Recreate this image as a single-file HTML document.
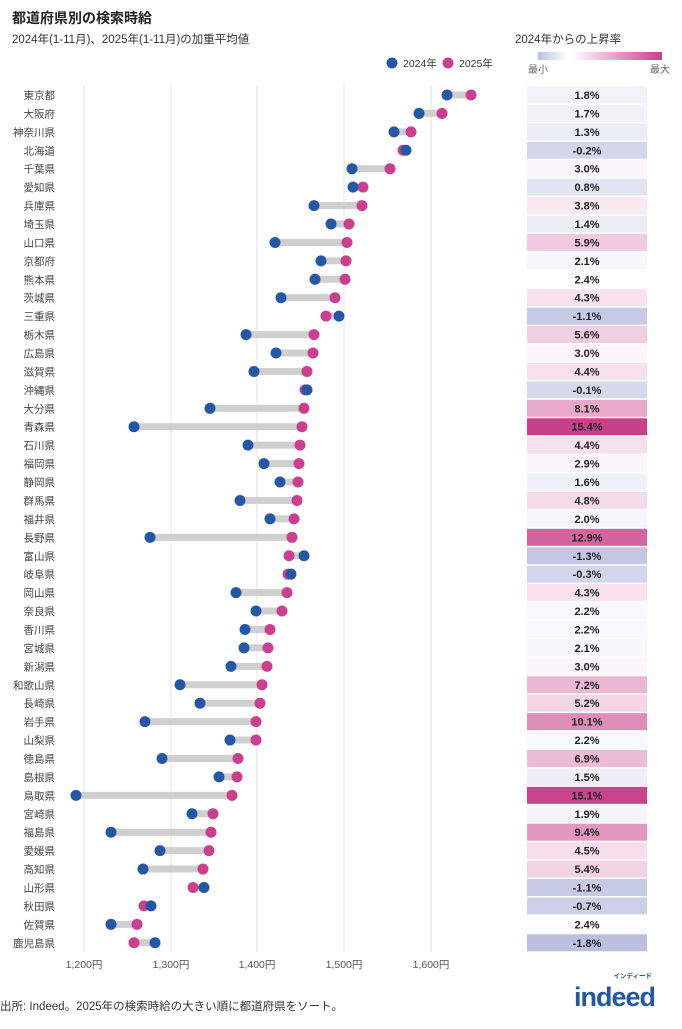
<!DOCTYPE html>
<html><head><meta charset="utf-8"><style>
body{margin:0;background:#fff;width:682px;height:1024px;overflow:hidden;font-family:"Liberation Sans","Noto Sans CJK JP",sans-serif}
svg text{font-family:"Liberation Sans","Noto Sans CJK JP",sans-serif}
</style></head><body>
<svg id="s" width="682" height="1024" xmlns="http://www.w3.org/2000/svg">
<defs>
<linearGradient id="gb" x1="0" x2="1"><stop offset="0" stop-color="#bcc0e0"/><stop offset="1" stop-color="#fff"/></linearGradient>
<linearGradient id="gp" x1="0" x2="1"><stop offset="0" stop-color="#fff"/><stop offset="1" stop-color="#c8408a"/></linearGradient>
</defs>
<text x="12" y="23" font-size="14" font-weight="bold" fill="#222">都道府県別の検索時給</text>
<text x="12" y="43" font-size="11.5" fill="#333">2024年(1-11月)、2025年(1-11月)の加重平均値</text>
<text x="515" y="43" font-size="11.5" fill="#333">2024年からの上昇率</text>
<rect x="538" y="52" width="29" height="8" fill="url(#gb)"/>
<rect x="572" y="52" width="90" height="8" fill="url(#gp)"/>
<text x="528" y="73" font-size="10" fill="#666">最小</text>
<text x="650" y="73" font-size="10" fill="#666">最大</text>
<circle cx="392" cy="63" r="5.5" fill="#2557a7"/>
<text x="403" y="67" font-size="10.5" fill="#333">2024年</text>
<circle cx="448" cy="63" r="5.5" fill="#cc3f8f"/>
<text x="459" y="67" font-size="10.5" fill="#333">2025年</text>
<g id="g"></g>
<text x="0" y="1010" font-size="11.5" fill="#333">出所: Indeed。2025年の検索時給の大きい順に都道府県をソート。</text>
<text x="655" y="1006" font-size="27" font-weight="bold" fill="#2557a7" text-anchor="end" letter-spacing="-1">indeed</text>
<text x="652" y="978" font-size="6.5" font-weight="bold" fill="#2557a7" text-anchor="end">インディード</text>
</svg>
<script>
var d=[["東京都",447,471,1.8],["大阪府",419,442,1.7],["神奈川県",394,411,1.3],["北海道",406,403,-0.2],["千葉県",352,390,3.0],["愛知県",353,363,0.8],["兵庫県",314,362,3.8],["埼玉県",331,349,1.4],["山口県",275,347,5.9],["京都府",321,346,2.1],["熊本県",315,345,2.4],["茨城県",281,335,4.3],["三重県",339,326,-1.1],["栃木県",246,314,5.6],["広島県",276,313,3.0],["滋賀県",254,307,4.4],["沖縄県",307,305,-0.1],["大分県",210,304,8.1],["青森県",134,302,15.4],["石川県",248,300,4.4],["福岡県",264,299,2.9],["静岡県",280,298,1.6],["群馬県",240,297,4.8],["福井県",270,294,2.0],["長野県",150,292,12.9],["富山県",304,289,-1.3],["岐阜県",291,288,-0.3],["岡山県",236,287,4.3],["奈良県",256,282,2.2],["香川県",245,270,2.2],["宮城県",244,268,2.1],["新潟県",231,267,3.0],["和歌山県",180,262,7.2],["長崎県",200,260,5.2],["岩手県",145,256,10.1],["山梨県",230,256,2.2],["徳島県",162,238,6.9],["島根県",219,237,1.5],["鳥取県",76,232,15.1],["宮崎県",192,213,1.9],["福島県",111,211,9.4],["愛媛県",160,209,4.5],["高知県",143,203,5.4],["山形県",204,193,-1.1],["秋田県",151,144,-0.7],["佐賀県",111,137,2.4],["鹿児島県",155,134,-1.8]];
function mix(a,b,t){return "rgb("+[0,1,2].map(function(i){return Math.round(a[i]+(b[i]-a[i])*t)}).join(",")+")"}
var h="";
[84,171,257,344,431].forEach(function(x,i){h+='<line x1="'+x+'" x2="'+x+'" y1="85" y2="952" stroke="#e6e6e6"/>';h+='<text x="'+x+'" y="968" font-size="10.5" fill="#555" text-anchor="middle">'+(["1,200円","1,300円","1,400円","1,500円","1,600円"][i])+'</text>'});
d.forEach(function(r,i){var y=95+i*18.43;
h+='<text x="55" y="'+(y+4)+'" font-size="10.5" fill="#444" text-anchor="end">'+r[0]+'</text>';
h+='<line x1="'+r[1]+'" x2="'+r[2]+'" y1="'+y+'" y2="'+y+'" stroke="#cfcfcf" stroke-width="7"/>';
h+='<circle cx="'+r[2]+'" cy="'+y+'" r="5.5" fill="#cc3f8f"/><circle cx="'+r[1]+'" cy="'+y+'" r="5.5" fill="#2557a7"/>';
var v=r[3],c;if(v<2.3)c=mix([250,250,253],[188,192,224],Math.min(1,(2.3-v)/4.1));else c=mix([255,255,255],[200,64,138],(v-2.3)/13.1);
h+='<rect x="527" y="'+(y-8.5)+'" width="120" height="17" fill="'+c+'"/>';
h+='<text x="587" y="'+(y+4)+'" font-size="11" font-weight="bold" fill="#222" text-anchor="middle">'+v.toFixed(1)+'%</text>';});
document.getElementById("g").innerHTML=h;
</script>
</body></html>
